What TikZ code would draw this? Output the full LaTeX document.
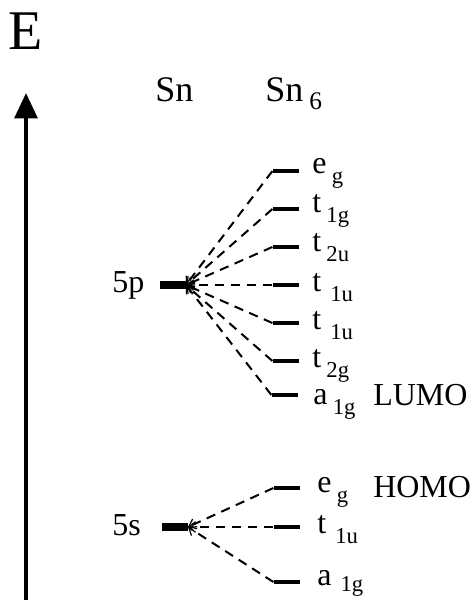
\documentclass[tikz,border=0pt]{standalone}
\usepackage{fontspec}
\setmainfont{Liberation Serif}
\usetikzlibrary{arrows.meta}
\newcommand{\orb}[2]{#1\,\raisebox{-0.7ex}{\fontsize{17}{17}\selectfont #2}}

\begin{document}
\begin{tikzpicture}[x=0.75pt,y=-0.75pt,
  aobar/.style={fill=black,minimum width=19pt,minimum height=6pt,inner sep=0pt},
  mobar/.style={fill=black,minimum width=20pt,minimum height=3.6pt,inner sep=0pt},
  lab/.style={anchor=base west,inner sep=0pt,font=\fontsize{24}{26}\selectfont},
  link/.style={dashed,dash pattern=on 7pt off 5pt,line width=1.5pt,-{Straight Barb[length=5pt,width=8pt,line width=0.9pt]}}]
\useasboundingbox (0,0) rectangle (472,600);
% energy axis
\node[inner sep=0pt,font=\fontsize{42}{42}\selectfont] (E) at (26,31) {E};
\coordinate (axlow) at (26,600);
\coordinate (axtop) at (26,93);
\draw[line width=3pt,-{Triangle[length=19pt,width=17pt]}] (axlow) -- (axtop);
% headings
\node[lab,font=\fontsize{27}{27}\selectfont] (sn) at (155,101) {Sn};
\node[lab,font=\fontsize{27}{27}\selectfont] (sn6) at (265,101) {Sn\,\raisebox{-0.5ex}{\fontsize{19}{19}\selectfont 6}};
% atomic levels
\node[aobar] (p) at (173,285) {};
\node[aobar] (s) at (175,527) {};
\node[lab] (plab) at (112,292) {5p};
\node[lab] (slab) at (112,535) {5s};
% cluster levels
\node[mobar] (m1) at (286,171) {};
\node[mobar] (m2) at (286,209) {};
\node[mobar] (m3) at (286,247) {};
\node[mobar] (m4) at (286,285) {};
\node[mobar] (m5) at (286,323) {};
\node[mobar] (m6) at (286,361) {};
\node[mobar] (m7) at (285,395) {};
\node[mobar] (n1) at (287,488) {};
\node[mobar] (n2) at (287,527) {};
\node[mobar] (n3) at (287,582) {};
\node[lab] (l1) at (312,173) {\orb{e}{g}};
\node[lab] (l2) at (312,212) {\orb{t}{1g}};
\node[lab] (l3) at (312,251) {\orb{t}{2u}};
\node[lab] (l4) at (312,291) {\orb{t}{\,1u}};
\node[lab] (l5) at (312,329) {\orb{t}{\,1u}};
\node[lab] (l6) at (312,367) {\orb{t}{2g}};
\node[lab] (l7) at (313,404) {\orb{a}{1g}};
\node[lab] (k1) at (317,492) {\orb{e}{g}};
\node[lab] (k2) at (317,533) {\orb{t}{\,1u}};
\node[lab] (k3) at (317,585) {a\,\raisebox{-0.45ex}{\fontsize{17}{17}\selectfont \,1g}};
\node[lab] (lumo) at (373,405) {LUMO};
\node[lab] (homo) at (373,497) {HOMO};
% correlation lines
\foreach \m in {m1,m2,m3,m4,m5,m6,m7}
  \draw[link] (\m.west) -- (p.east);
\foreach \n in {n1,n2,n3}
  \draw[link] (\n.west) -- (s.east);
\end{tikzpicture}
\end{document}
